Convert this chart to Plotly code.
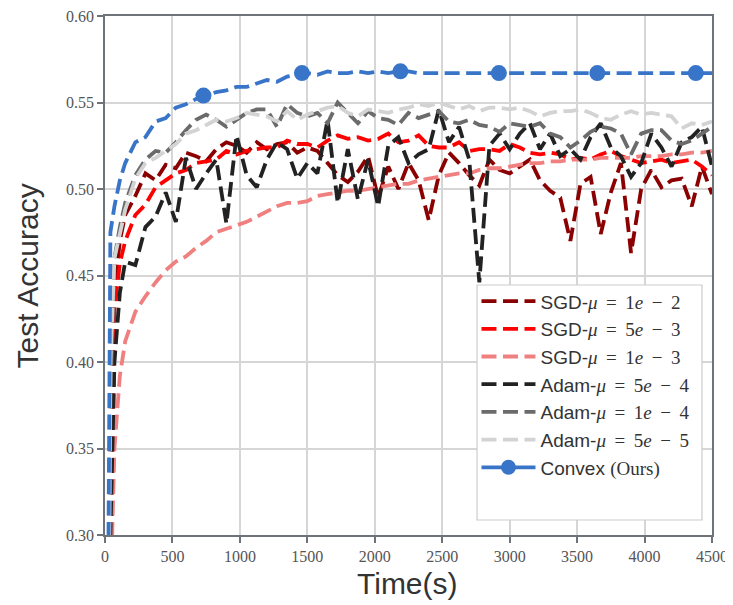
import plotly.graph_objects as go

# ---------------- data ----------------
TIME = [10, 40, 70, 110] + list(range(150, 4501, 75))

SGD_1E2 = [0.05, 0.33, 0.44, 0.47,
           0.485, 0.496, 0.509, 0.505, 0.514, 0.512, 0.521, 0.519, 0.516, 0.523,
           0.527, 0.525, 0.521, 0.527, 0.523, 0.526, 0.527, 0.521, 0.524, 0.522,
           0.515, 0.508, 0.504, 0.510, 0.519, 0.495, 0.513, 0.500, 0.515, 0.505,
           0.482, 0.508, 0.521, 0.515, 0.508, 0.502, 0.517, 0.511, 0.509, 0.513,
           0.517, 0.505, 0.499, 0.495, 0.470, 0.503, 0.507, 0.474, 0.498, 0.515,
           0.463, 0.500, 0.511, 0.501, 0.505, 0.506, 0.490, 0.513, 0.497]

SGD_5E3 = [0.05, 0.25, 0.43, 0.457,
           0.470, 0.485, 0.491, 0.501, 0.505, 0.509, 0.511, 0.515, 0.516, 0.517,
           0.522, 0.520, 0.522, 0.523, 0.524, 0.524, 0.528, 0.526, 0.526, 0.524,
           0.528, 0.531, 0.529, 0.530, 0.528, 0.529, 0.532, 0.527, 0.528, 0.531,
           0.525, 0.524, 0.524, 0.527, 0.522, 0.523, 0.523, 0.522, 0.526, 0.524,
           0.521, 0.520, 0.521, 0.520, 0.517, 0.518, 0.517, 0.520, 0.522, 0.519,
           0.517, 0.515, 0.516, 0.517, 0.515, 0.516, 0.517, 0.513, 0.508]

SGD_1E3 = [0.10, 0.26, 0.35, 0.392,
           0.412, 0.429, 0.438, 0.446, 0.453, 0.458, 0.461, 0.466, 0.470, 0.475,
           0.477, 0.479, 0.481, 0.484, 0.487, 0.490, 0.492, 0.492, 0.493, 0.496,
           0.497, 0.498, 0.499, 0.499, 0.500, 0.501, 0.502, 0.503, 0.503, 0.505,
           0.506, 0.507, 0.508, 0.509, 0.509, 0.511, 0.512, 0.512, 0.513, 0.514,
           0.515, 0.515, 0.516, 0.516, 0.517, 0.517, 0.517, 0.518, 0.518, 0.518,
           0.518, 0.519, 0.519, 0.519, 0.520, 0.520, 0.521, 0.521, 0.522]

ADAM_5E4 = [0.05, 0.30, 0.40, 0.44,
            0.458, 0.456, 0.478, 0.484, 0.498, 0.481, 0.518, 0.500, 0.509, 0.517,
            0.480, 0.531, 0.508, 0.501, 0.517, 0.527, 0.523, 0.506, 0.515, 0.509,
            0.540, 0.492, 0.523, 0.494, 0.517, 0.490, 0.525, 0.530, 0.515, 0.520,
            0.523, 0.546, 0.527, 0.536, 0.517, 0.446, 0.525, 0.532, 0.523, 0.532,
            0.538, 0.523, 0.532, 0.519, 0.523, 0.517, 0.530, 0.538, 0.524, 0.519,
            0.507, 0.515, 0.532, 0.524, 0.513, 0.527, 0.530, 0.536, 0.513]

ADAM_1E4 = [0.05, 0.38, 0.46, 0.478,
            0.492, 0.508, 0.517, 0.522, 0.521, 0.527, 0.534, 0.540, 0.543, 0.540,
            0.536, 0.540, 0.544, 0.546, 0.546, 0.536, 0.549, 0.544, 0.542, 0.544,
            0.538, 0.550, 0.544, 0.538, 0.545, 0.541, 0.540, 0.537, 0.544, 0.541,
            0.543, 0.545, 0.539, 0.538, 0.540, 0.537, 0.536, 0.533, 0.538, 0.537,
            0.536, 0.538, 0.532, 0.530, 0.524, 0.528, 0.533, 0.536, 0.535, 0.532,
            0.520, 0.532, 0.534, 0.534, 0.528, 0.526, 0.528, 0.532, 0.536]

ADAM_5E5 = [0.05, 0.40, 0.46, 0.475,
            0.488, 0.506, 0.515, 0.518, 0.522, 0.526, 0.532, 0.534, 0.537, 0.540,
            0.539, 0.541, 0.544, 0.543, 0.542, 0.539, 0.545, 0.540, 0.543, 0.545,
            0.547, 0.548, 0.544, 0.542, 0.546, 0.545, 0.544, 0.546, 0.547, 0.549,
            0.548, 0.550, 0.548, 0.546, 0.548, 0.545, 0.547, 0.547, 0.546, 0.547,
            0.545, 0.542, 0.544, 0.545, 0.545, 0.546, 0.544, 0.541, 0.540, 0.543,
            0.545, 0.543, 0.544, 0.543, 0.542, 0.535, 0.538, 0.537, 0.539]

CONVEX = [0.10, 0.475, 0.490, 0.505,
          0.515, 0.527, 0.530, 0.539, 0.541, 0.547, 0.549, 0.552, 0.554, 0.556,
          0.557, 0.559, 0.559, 0.561, 0.563, 0.562, 0.565, 0.566, 0.567, 0.566,
          0.568, 0.567, 0.567, 0.568, 0.567, 0.568, 0.567, 0.568, 0.568, 0.567,
          0.567, 0.567, 0.567, 0.567, 0.567, 0.567, 0.567, 0.567, 0.567, 0.567,
          0.567, 0.567, 0.567, 0.567, 0.567, 0.567, 0.567, 0.567, 0.567, 0.567,
          0.567, 0.567, 0.567, 0.567, 0.567, 0.567, 0.567, 0.567, 0.567]

CONVEX_MARK_T = [730, 1460, 2190, 2920, 3650, 4380]
CONVEX_MARK_V = [0.554, 0.567, 0.568, 0.567, 0.567, 0.567]

XTICKS = [0, 500, 1000, 1500, 2000, 2500, 3000, 3500, 4000, 4500]
YTICKS = [0.30, 0.35, 0.40, 0.45, 0.50, 0.55, 0.60]

# ---------------- style ----------------
SERIF = "Liberation Serif"
SANS = "Liberation Sans"
DASH = "15px,6.5px"
LW = 3.8
BLUE = "#3874c8"
SP = "\u2009\u00a0"


def mu_label(prefix, mant, exp):
    return (f'{prefix}-<span style="font-family:{SERIF}"><i>μ</i>{SP}={SP}{mant}'
            f'<i>e</i>{SP}−{SP}{exp}</span>')


series = [
    (mu_label("SGD", 1, 2), SGD_1E2, "#8b0000"),
    (mu_label("SGD", 5, 3), SGD_5E3, "#ff0000"),
    (mu_label("SGD", 1, 3), SGD_1E3, "#f08080"),
    (mu_label("Adam", 5, 4), ADAM_5E4, "#222222"),
    (mu_label("Adam", 1, 4), ADAM_1E4, "#6b6b6b"),
    (mu_label("Adam", 5, 5), ADAM_5E5, "#d3d3d3"),
]

fig = go.Figure()
for i, (name, vals, col) in enumerate(series):
    fig.add_trace(go.Scatter(
        x=TIME, y=vals, mode="lines", name=name, legendgroup=f"g{i}",
        line=dict(color=col, width=LW, dash=DASH)))

# Convex line (dashed) + markers, with a combined legend entry
fig.add_trace(go.Scatter(x=TIME, y=CONVEX, mode="lines", showlegend=False,
                         line=dict(color=BLUE, width=LW, dash=DASH)))
fig.add_trace(go.Scatter(x=CONVEX_MARK_T, y=CONVEX_MARK_V, mode="markers",
                         showlegend=False,
                         marker=dict(color=BLUE, size=16, line=dict(width=0))))
fig.add_trace(go.Scatter(
    x=[None], y=[None], mode="lines+markers", legendgroup="g6",
    name=f'Convex <span style="font-family:{SERIF}">(Ours)</span>',
    line=dict(color=BLUE, width=LW), marker=dict(color=BLUE, size=15)))

AX = "#6e737a"
GRID = "#d6d6d6"
common_axis = dict(showline=True, linecolor=AX, linewidth=1.5, mirror=True,
                   ticks="outside", ticklen=6, tickwidth=1.5, tickcolor=AX,
                   showgrid=True, gridcolor=GRID, gridwidth=1.5, zeroline=False,
                   automargin=False, ticklabeloverflow="allow",
                   tickfont=dict(family=SERIF, size=16, color="#555555"))

fig.update_xaxes(range=[0, 4500], tickvals=XTICKS, **common_axis)
fig.update_yaxes(range=[0.30, 0.60], tickvals=YTICKS, tickformat=".2f",
                 **common_axis)

# page body adds an 8px offset, so the figure is sized to fit the window
fig.update_layout(
    width=725, height=597,
    margin=dict(l=97, r=21, t=8, b=70, autoexpand=False),
    plot_bgcolor="white", paper_bgcolor="white",
    showlegend=True,
    legend=dict(x=0.612, y=0.487, xanchor="left", yanchor="top",
                bgcolor="rgba(0,0,0,0)", borderwidth=0,
                traceorder="grouped", tracegroupgap=0,
                font=dict(family=SANS, size=19, color="#333333"),
                itemwidth=54),
    shapes=[dict(type="rect", xref="paper", yref="paper",
                 x0=0.6129, x1=0.9835, y0=0.0289, y1=0.4817,
                 fillcolor="white", line=dict(color="#cccccc", width=1.2),
                 layer="above")],
    annotations=[
        dict(text="Test Accuracy", xref="paper", yref="paper",
             x=-0.127, y=0.5, xanchor="center", yanchor="middle",
             textangle=-90, showarrow=False,
             font=dict(family=SANS, size=30, color="#333333")),
        dict(text="Time(s)", xref="paper", yref="paper",
             x=0.499, y=-0.0925, xanchor="center", yanchor="middle",
             showarrow=False,
             font=dict(family=SANS, size=30, color="#333333")),
    ],
)

fig.write_html("out.html")
